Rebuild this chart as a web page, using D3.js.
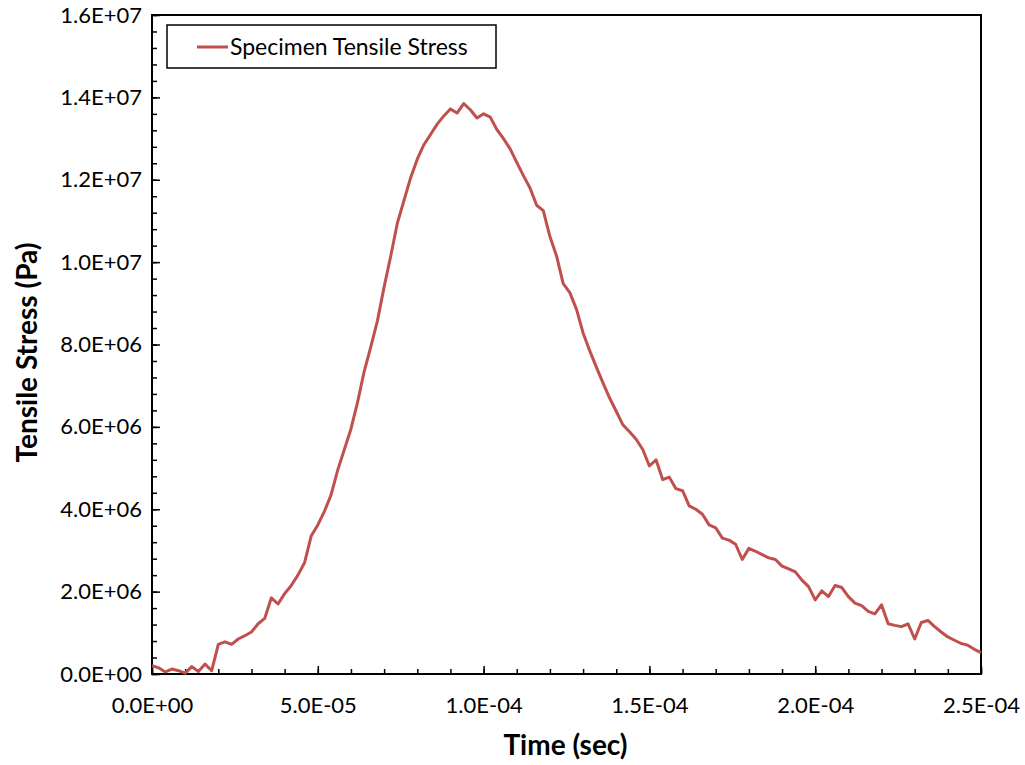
<!DOCTYPE html>
<html>
<head>
	<title>Specimen Tensile Stress</title>
	<meta charset="utf-8">
	<script src="https://cdnjs.cloudflare.com/ajax/libs/d3/7.8.5/d3.min.js"></script>
	<style>
		body { margin: 0; background: #fff; }
		text { font-family: Lato, "Open Sans", sans-serif; fill: #000; }
	</style>
</head>
<body>
	<div id="chartDiv"></div>
	<script>

		const xLabel = 'Time (sec)';
		const yLabel = 'Tensile Stress (Pa)';
		const seriesName = 'Specimen Tensile Stress';

		// time in microseconds, 2 us apart
		const timeUs = d3.range(0, 252, 2);

		// stress in MPa (1E+06 Pa)
		const stressMPa = [
			0.20, 0.15, 0.05, 0.12, 0.08, 0.02, 0.18, 0.06, 0.24, 0.08,
			0.72, 0.78, 0.72, 0.85, 0.93, 1.02, 1.22, 1.35, 1.85, 1.70,
			1.95, 2.15, 2.40, 2.70, 3.35, 3.62, 3.95, 4.35, 4.95, 5.45,
			5.95, 6.60, 7.35, 7.95, 8.58, 9.40, 10.15, 10.95, 11.50, 12.05,
			12.50, 12.85, 13.10, 13.35, 13.55, 13.72, 13.62, 13.85, 13.70, 13.50,
			13.60, 13.52, 13.22, 13.00, 12.75, 12.42, 12.10, 11.80, 11.38, 11.25,
			10.62, 10.15, 9.48, 9.26, 8.86, 8.28, 7.85, 7.45, 7.07, 6.70,
			6.38, 6.05, 5.88, 5.70, 5.45, 5.05, 5.20, 4.72, 4.78, 4.50,
			4.45, 4.08, 4.00, 3.88, 3.62, 3.55, 3.30, 3.25, 3.15, 2.78,
			3.05, 2.98, 2.90, 2.82, 2.78, 2.62, 2.55, 2.48, 2.28, 2.12,
			1.80, 2.02, 1.88, 2.15, 2.10, 1.88, 1.72, 1.66, 1.52, 1.46,
			1.68, 1.22, 1.18, 1.15, 1.22, 0.85, 1.25, 1.30, 1.15, 1.02,
			0.90, 0.82, 0.74, 0.70, 0.60, 0.52
		];

		const xTicks = [0, 5e-5, 1e-4, 1.5e-4, 2e-4, 2.5e-4];
		const yTicks = [0, 2e6, 4e6, 6e6, 8e6, 1e7, 1.2e7, 1.4e7, 1.6e7];

		const data = timeUs.map((t, i) => ({ t: t * 1e-6, s: stressMPa[i] * 1e6 }));

		const width = 1025, height = 765;
		const margin = { left: 152, right: 44, top: 15, bottom: 91 };
		const innerW = width - margin.left - margin.right;
		const innerH = height - margin.top - margin.bottom;

		// Excel style "1.4E+07"
		const sciFormat = v => {
			if (v === 0) return '0.0E+00';
			const e = Math.floor(Math.log10(Math.abs(v)) + 1e-9);
			const m = v / Math.pow(10, e);
			const ae = Math.abs(e);
			return m.toFixed(1) + 'E' + (e < 0 ? '-' : '+') + (ae < 10 ? '0' : '') + ae;
		};

		const svgObj = d3.select('#chartDiv').append('svg')
			.attr('width', width)
			.attr('height', height);
		const gObj = svgObj.append('g')
			.attr('transform', `translate(${margin.left},${margin.top})`);

		const xScale = d3.scaleLinear().domain([0, 2.5e-4]).range([0, innerW]);
		const yScale = d3.scaleLinear().domain([0, 1.6e7]).range([innerH, 0]);

		// minor ticks
		const xMinor = d3.axisBottom(xScale)
			.tickValues(d3.range(0, 26).map(d => d * 1e-5))
			.tickSize(-5).tickFormat('');
		const yMinor = d3.axisLeft(yScale)
			.tickValues(d3.range(0, 41).map(d => d * 4e5))
			.tickSize(-5).tickFormat('');

		gObj.append('g').attr('class', 'axis xminor')
			.attr('transform', `translate(0,${innerH})`)
			.call(xMinor);
		gObj.append('g').attr('class', 'axis yminor')
			.call(yMinor);

		// major ticks with labels
		const xAxis = d3.axisBottom(xScale)
			.tickValues(xTicks)
			.tickSize(-8)
			.tickPadding(23)
			.tickFormat(sciFormat);
		const yAxis = d3.axisLeft(yScale)
			.tickValues(yTicks)
			.tickSize(-8)
			.tickPadding(10)
			.tickFormat(sciFormat);

		const xAxisG = gObj.append('g').attr('class', 'axis x')
			.attr('transform', `translate(0,${innerH})`)
			.call(xAxis);
		const yAxisG = gObj.append('g').attr('class', 'axis y')
			.call(yAxis);

		gObj.selectAll('.axis .domain').remove();
		gObj.selectAll('.axis .tick line').attr('stroke', '#000').attr('stroke-width', 1.5);
		gObj.selectAll('.axis .tick text')
			.style('font-family', 'Lato, sans-serif')
			.style('font-size', '22px')
			.attr('fill', '#000');

		// plot frame
		gObj.append('rect')
			.attr('x', 0).attr('y', 0)
			.attr('width', innerW).attr('height', innerH)
			.attr('fill', 'none')
			.attr('stroke', '#000')
			.attr('stroke-width', 2);

		// line
		const lineFn = d3.line()
			.x(d => xScale(d.t))
			.y(d => yScale(d.s));

		gObj.append('path')
			.datum(data)
			.attr('fill', 'none')
			.attr('stroke', '#C0504D')
			.attr('stroke-width', 3)
			.attr('stroke-linejoin', 'round')
			.attr('d', lineFn);

		// axis titles
		svgObj.append('text')
			.attr('x', margin.left + innerW / 2 - 1)
			.attr('y', 755)
			.attr('text-anchor', 'middle')
			.style('font-size', '28px')
			.style('font-weight', 'bold')
			.text(xLabel);

		svgObj.append('text')
			.attr('transform', `translate(37, ${margin.top + innerH / 2 + 8}) rotate(-90)`)
			.attr('text-anchor', 'middle')
			.style('font-size', '28px')
			.style('font-weight', 'bold')
			.text(yLabel);

		// legend
		const legendG = svgObj.append('g').attr('transform', 'translate(167,25)');
		legendG.append('rect')
			.attr('width', 329).attr('height', 43)
			.attr('fill', '#fff')
			.attr('stroke', '#000')
			.attr('stroke-width', 1.5);
		legendG.append('line')
			.attr('x1', 30).attr('x2', 61)
			.attr('y1', 22).attr('y2', 22)
			.attr('stroke', '#C0504D')
			.attr('stroke-width', 3);
		legendG.append('text')
			.attr('x', 63).attr('y', 22)
			.attr('dy', '0.35em')
			.style('font-size', '23px')
			.text(seriesName);

	</script>
</body>
</html>
